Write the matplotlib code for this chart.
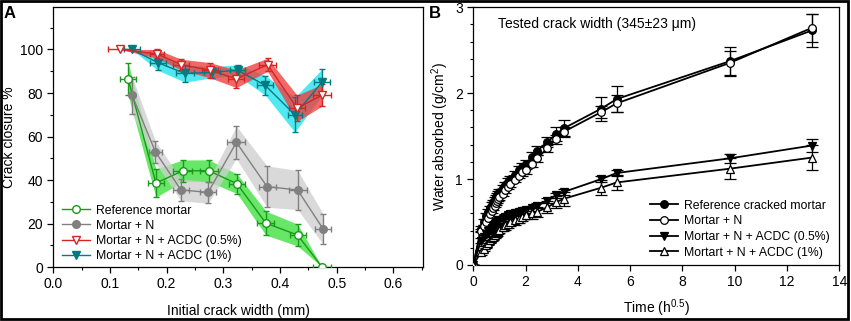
import numpy as np
import matplotlib.pyplot as plt
from matplotlib.patches import Rectangle
from matplotlib.ticker import MultipleLocator

plt.rcParams['font.family'] = ['Liberation Sans', 'DejaVu Sans']
plt.rcParams['mathtext.default'] = 'regular'

# Panel A: crack closure vs initial crack width
ref_w = [0.132, 0.181, 0.228, 0.274, 0.324, 0.375, 0.431, 0.474]
ref_w_err = [0.014, 0.014, 0.016, 0.016, 0.014, 0.015, 0.014, 0.016]
ref_cc = [86.5, 38.6, 44.2, 44.3, 38.3, 20.2, 14.7, 0.0]
ref_cc_err = [7.5, 6.5, 5.0, 5.0, 4.5, 5.5, 5.0, 0.0]

n_w = [0.139, 0.180, 0.225, 0.273, 0.323, 0.377, 0.431, 0.476]
n_w_err = [0.0, 0.012, 0.014, 0.014, 0.016, 0.015, 0.016, 0.014]
n_cc = [79.0, 53.0, 35.5, 34.3, 57.3, 37.0, 35.4, 17.5]
n_cc_err = [8.5, 5.0, 5.0, 5.0, 7.5, 9.5, 9.0, 7.0]

a05_w = [0.118, 0.183, 0.226, 0.276, 0.323, 0.378, 0.430, 0.474]
a05_w_err = [0.022, 0.012, 0.014, 0.014, 0.014, 0.015, 0.014, 0.016]
a05_cc = [100.0, 98.0, 93.0, 90.5, 86.5, 93.0, 73.0, 79.0]
a05_cc_err = [0.0, 2.0, 2.5, 3.5, 4.0, 3.0, 6.0, 5.0]

a1_w = [0.139, 0.184, 0.232, 0.280, 0.325, 0.374, 0.426, 0.474]
a1_w_err = [0.014, 0.014, 0.016, 0.014, 0.014, 0.014, 0.012, 0.014]
a1_cc = [100.0, 94.0, 89.0, 89.5, 90.5, 83.5, 70.0, 85.0]
a1_cc_err = [0.0, 3.5, 4.0, 2.5, 2.5, 4.5, 8.0, 6.0]

# Panel B: water absorption vs sqrt(time)
t = [0, 0.29, 0.41, 0.50, 0.58, 0.65, 0.71, 0.76, 0.82, 0.87, 0.91, 0.96, 1.00,
     1.12, 1.22, 1.32, 1.41, 1.58, 1.73, 1.87, 2.00, 2.24, 2.45, 2.83, 3.16,
     3.46, 4.90, 5.48, 9.80, 12.96]
wa_ref = [0, 0.42, 0.50, 0.57, 0.62, 0.66, 0.70, 0.73, 0.76, 0.79, 0.81, 0.83, 0.85,
          0.89, 0.93, 0.97, 1.00, 1.05, 1.10, 1.14, 1.17, 1.26, 1.33, 1.43, 1.52,
          1.59, 1.82, 1.93, 2.37, 2.73]
wa_ref_err = [0, 0.03, 0.03, 0.03, 0.03, 0.03, 0.03, 0.03, 0.03, 0.03, 0.03, 0.03, 0.03,
              0.04, 0.04, 0.04, 0.04, 0.04, 0.05, 0.05, 0.05, 0.05, 0.05, 0.06, 0.08,
              0.10, 0.14, 0.15, 0.17, 0.19]
wa_n = [0, 0.40, 0.45, 0.50, 0.55, 0.59, 0.63, 0.66, 0.69, 0.72, 0.74, 0.77, 0.79,
        0.83, 0.87, 0.91, 0.94, 0.99, 1.04, 1.08, 1.10, 1.18, 1.24, 1.36, 1.46,
        1.55, 1.78, 1.88, 2.35, 2.76]
wa_n_err = [0, 0.02, 0.02, 0.02, 0.02, 0.02, 0.02, 0.02, 0.02, 0.02, 0.02, 0.02, 0.03,
            0.03, 0.03, 0.03, 0.03, 0.03, 0.03, 0.04, 0.04, 0.04, 0.04, 0.04, 0.05,
            0.05, 0.07, 0.10, 0.14, 0.16]
wa_a05 = [0, 0.28, 0.32, 0.36, 0.39, 0.41, 0.43, 0.45, 0.47, 0.48, 0.50, 0.51, 0.52,
          0.54, 0.56, 0.58, 0.59, 0.61, 0.62, 0.63, 0.64, 0.66, 0.69, 0.75, 0.81,
          0.85, 1.00, 1.07, 1.24, 1.39]
wa_a05_err = [0, 0.03, 0.03, 0.03, 0.03, 0.03, 0.03, 0.03, 0.03, 0.03, 0.03, 0.03, 0.03,
              0.03, 0.03, 0.03, 0.03, 0.03, 0.03, 0.03, 0.03, 0.03, 0.03, 0.03, 0.03,
              0.03, 0.03, 0.03, 0.05, 0.07]
wa_a1 = [0, 0.15, 0.19, 0.23, 0.26, 0.29, 0.31, 0.33, 0.35, 0.37, 0.38, 0.40, 0.41,
         0.44, 0.46, 0.48, 0.50, 0.52, 0.54, 0.56, 0.58, 0.60, 0.62, 0.67, 0.73,
         0.77, 0.90, 0.96, 1.12, 1.25]
wa_a1_err = [0, 0.03, 0.03, 0.03, 0.03, 0.03, 0.03, 0.04, 0.04, 0.04, 0.04, 0.04, 0.04,
             0.04, 0.05, 0.05, 0.05, 0.05, 0.05, 0.05, 0.05, 0.06, 0.06, 0.07, 0.07,
             0.08, 0.09, 0.09, 0.12, 0.15]

fig = plt.figure(figsize=(8.51, 3.21), dpi=100)
axA = fig.add_axes([0.0626, 0.168, 0.4344, 0.810])
axB = fig.add_axes([0.5562, 0.1745, 0.4301, 0.8033])

# ---- panel A
seriesA = [
    (ref_w, ref_w_err, ref_cc, ref_cc_err, '#3ce03c', '#1a991a', 'o', 'white', 'Reference mortar'),
    (n_w, n_w_err, n_cc, n_cc_err, '#cfcfcf', '#808080', 'o', '#808080', 'Mortar + N'),
    (a1_w, a1_w_err, a1_cc, a1_cc_err, '#1fe3ef', '#007c80', 'v', '#007c80', 'Mortar + N + ACDC (1%)'),
    (a05_w, a05_w_err, a05_cc, a05_cc_err, '#f03c3c', '#d42525', 'v', 'white', 'Mortar + N + ACDC (0.5%)'),
]
handles = {}
for i, (x, xe, y, ye, band, col, mk, face, lab) in enumerate(seriesA):
    x = np.array(x); y = np.array(y); ye = np.array(ye)
    axA.fill_between(x, y - ye, y + ye, color=band, alpha=0.78, lw=0, zorder=1 + i * 0.1)
    axA.errorbar(x, y, xerr=xe, yerr=ye, fmt='none', ecolor=col, elinewidth=1.0,
                 capsize=2.5, capthick=1.0, zorder=3)
    h, = axA.plot(x, y, color=col, lw=1.0, marker=mk, ms=5.5, mfc=face, mec=col,
                  mew=1.0, zorder=4, label=lab)
    handles[lab] = h

order = ['Reference mortar', 'Mortar + N', 'Mortar + N + ACDC (0.5%)', 'Mortar + N + ACDC (1%)']
axA.legend([handles[k] for k in order], order, loc='lower left', bbox_to_anchor=(0.024, 0.02),
           frameon=False, fontsize=8.8, handlelength=2.3, handletextpad=0.5,
           labelspacing=0.25, borderpad=0, borderaxespad=0)

axA.set_xlim(0, 0.652)
axA.set_ylim(0, 119.5)
axA.xaxis.set_minor_locator(MultipleLocator(0.05))
axA.yaxis.set_minor_locator(MultipleLocator(10))
axA.set_xticks([0, 0.1, 0.2, 0.3, 0.4, 0.5, 0.6])
axA.set_xticklabels(['0.0', '0.1', '0.2', '0.3', '0.4', '0.5', '0.6'])
axA.set_yticks([0, 20, 40, 60, 80, 100])
axA.set_xlabel('Initial crack width (mm)', fontsize=10, labelpad=9)
axA.set_ylabel('Crack closure %', fontsize=10, labelpad=2.5)

# ---- panel B
seriesB = [
    (wa_ref, wa_ref_err, 'o', 'black', 'Reference cracked mortar'),
    (wa_n, wa_n_err, 'o', 'white', 'Mortar + N'),
    (wa_a05, wa_a05_err, 'v', 'black', 'Mortar + N + ACDC (0.5%)'),
    (wa_a1, wa_a1_err, '^', 'white', 'Mortart + N + ACDC (1%)'),
]
for y, ye, mk, face, lab in seriesB:
    axB.errorbar(t, y, yerr=ye, fmt='none', ecolor='black', elinewidth=0.9,
                 capsize=4, capthick=0.9, zorder=2)
    axB.plot(t, y, color='black', lw=1.3, marker=mk, ms=5.5, mfc=face, mec='black',
             mew=0.9, zorder=3, label=lab)

axB.legend(loc='lower left', bbox_to_anchor=(0.483, 0.025), frameon=False, fontsize=8.8,
           handlelength=2.3, handletextpad=0.5, labelspacing=0.3, borderpad=0,
           borderaxespad=0)
axB.text(0.067, 0.934, 'Tested crack width (345±23 μm)', transform=axB.transAxes,
         fontsize=10, va='center', ha='left')

axB.set_xlim(0, 14)
axB.set_ylim(0, 3)
axB.xaxis.set_major_locator(MultipleLocator(2))
axB.yaxis.set_major_locator(MultipleLocator(1))
axB.yaxis.set_minor_locator(MultipleLocator(0.2))
axB.set_xlabel('Time (h$^{0.5}$)', fontsize=10, labelpad=6)
axB.set_ylabel('Water absorbed (g/cm$^2$)', fontsize=10, labelpad=3)

for ax in (axA, axB):
    ax.tick_params(which='major', direction='out', length=4, width=0.9, labelsize=10,
                   top=False, right=False)
    ax.tick_params(which='minor', direction='out', length=2.5, width=0.8,
                   top=False, right=False)
    for s in ax.spines.values():
        s.set_linewidth(0.9)

fig.text(0.004, 0.958, 'A', fontsize=12, fontweight='bold', va='center', ha='left')
fig.text(0.504, 0.958, 'B', fontsize=12, fontweight='bold', va='center', ha='left')
fig.patches.append(Rectangle((0.0015, 0.006), 0.9955, 0.9915, transform=fig.transFigure,
                             fill=False, edgecolor='black', lw=2))

fig.savefig('out.png', dpi=100)
